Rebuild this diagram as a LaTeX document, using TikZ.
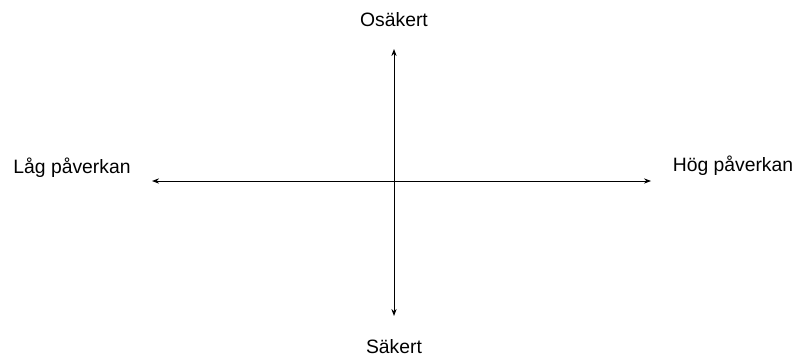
\documentclass[tikz,border=0pt]{standalone}
\usepackage{fontspec}
\setmainfont{Liberation Sans}
\usepackage{tikz}
\usetikzlibrary{arrows.meta,positioning}

\begin{document}
\begin{tikzpicture}[
  x=0.03cm,y=-0.03cm,
  lbl/.style={font=\fontsize{16.5}{19}\selectfont,text=black,inner sep=0pt},
  axis/.style={{Stealth[length=6pt,width=4.5pt]}-{Stealth[length=6pt,width=4.5pt]},thick,black}
]
  \useasboundingbox (0,0) rectangle (795,360);

  \coordinate (left)  at (152,181);
  \coordinate (right) at (651,181);
  \coordinate (top)   at (394,49);
  \coordinate (bottom) at (394,316);

  \node[lbl] (unsafe) at (394,20)  {Osäkert};
  \node[lbl] (safe)   at (394,347) {Säkert};
  \node[lbl] (low)    at (72,168)  {Låg påverkan};
  \node[lbl] (high)   at (733,166) {Hög påverkan};

  \draw[axis] (left) -- (right);
  \draw[axis] (bottom) -- (top);
\end{tikzpicture}
\end{document}
